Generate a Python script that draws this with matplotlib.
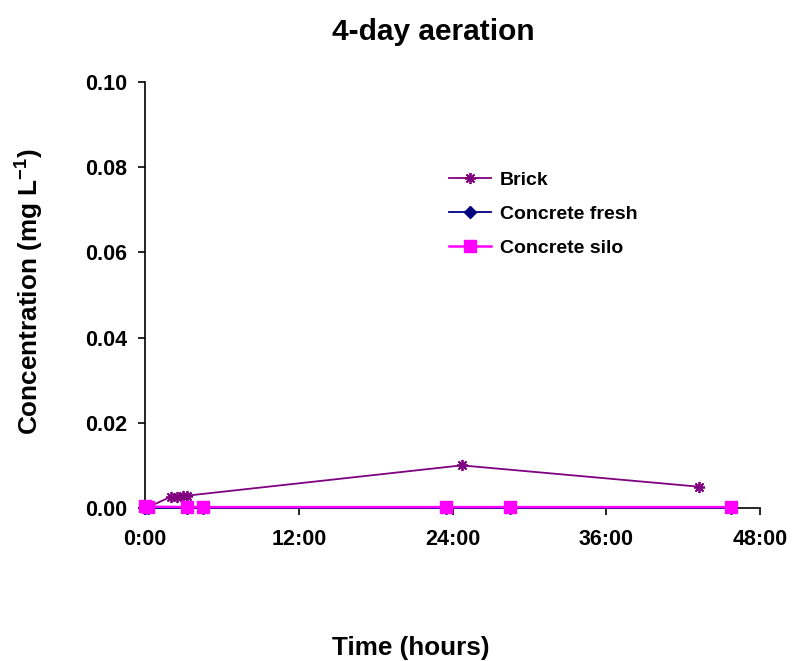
import matplotlib.pyplot as plt
import matplotlib.ticker as ticker

plt.rcParams['font.family'] = ['Liberation Sans', 'DejaVu Sans']
plt.rcParams['font.weight'] = 'bold'
plt.rcParams['mathtext.fontset'] = 'custom'
plt.rcParams['mathtext.bf'] = 'Liberation Sans:bold'
plt.rcParams['mathtext.rm'] = 'Liberation Sans:bold'
plt.rcParams['mathtext.default'] = 'bf'

# sampling times (hours) and concentrations (mg/L)
brick_t = [0.25, 2.0, 2.5, 3.0, 3.3, 24.7, 43.2]
brick_c = [0.0002, 0.0026, 0.0026, 0.0029, 0.0029, 0.0100, 0.0050]

fresh_t = [0.0, 0.25, 3.3, 4.5, 23.5, 28.5, 45.7]
fresh_c = [0.0, 0.0, 0.0, 0.0, 0.0, 0.0, 0.0]

silo_t = [0.0, 0.25, 3.3, 4.5, 23.5, 28.5, 45.7]
silo_c = [0.0005, 0.0003, 0.0002, 0.0002, 0.0002, 0.0002, 0.0002]

fig = plt.figure(figsize=(7.92, 6.61), dpi=100)
ax = fig.add_axes([0.183, 0.2315, 0.777, 0.6445])

ax.plot(brick_t, brick_c, color='#800080', lw=1.3, marker=(8, 2, 0),
        ms=8, mew=1.3, label='Brick', clip_on=False, zorder=3)
ax.plot(fresh_t, fresh_c, color='#000080', lw=1.3, marker='D',
        ms=6, label='Concrete fresh', clip_on=False, zorder=4)
ax.plot(silo_t, silo_c, color='#FF00FF', lw=1.8, marker='s',
        ms=8, label='Concrete silo', clip_on=False, zorder=5)

ax.set_xlim(0, 48)
ax.set_ylim(0, 0.10)
ax.xaxis.set_major_locator(ticker.MultipleLocator(12))
ax.xaxis.set_major_formatter(ticker.FuncFormatter(lambda v, p: '%d:00' % v))
ax.yaxis.set_major_locator(ticker.MultipleLocator(0.02))
ax.yaxis.set_major_formatter(ticker.FormatStrFormatter('%.2f'))

for s in ['top', 'right']:
    ax.spines[s].set_visible(False)
for s in ['left', 'bottom']:
    ax.spines[s].set_linewidth(1.2)
ax.tick_params(direction='out', length=5, width=1.2, labelsize=15.5)
ax.tick_params(axis='x', pad=10)
ax.tick_params(axis='y', pad=8)

fig.text(433 / 792, 1 - 32 / 661, '4-day aeration', fontsize=21.5,
         fontweight='bold', ha='center', va='center')
fig.text(30 / 792, 1 - 292 / 661, 'Concentration (mg L$^{-1}$)',
         fontsize=18.8, fontweight='bold', rotation=90,
         ha='center', va='center')
fig.text(411 / 792, 1 - 648 / 661, 'Time (hours)', fontsize=18.8,
         fontweight='bold', ha='center', va='center')

ax.legend(loc='upper left', bbox_to_anchor=(0.465, 0.832), frameon=False,
          handlelength=2.16, labelspacing=0.85, handletextpad=0.46,
          prop={'weight': 'bold', 'size': 14})

plt.savefig('out.png')
